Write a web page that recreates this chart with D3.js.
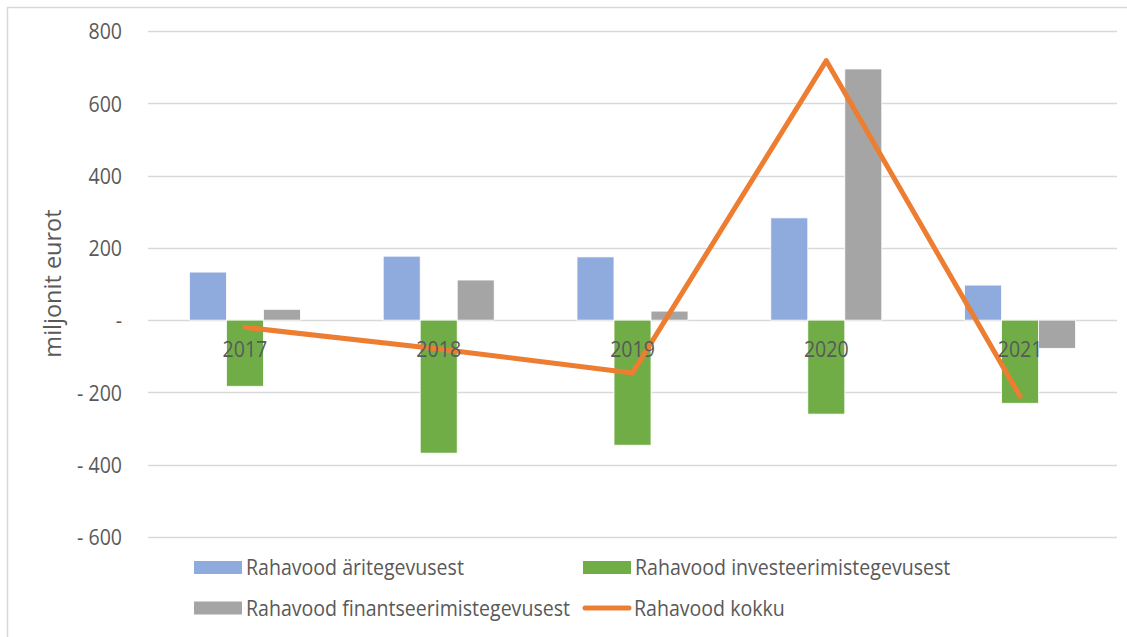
<!DOCTYPE html>
<html>
<head>
<meta charset="utf-8">
<script src="https://cdn.jsdelivr.net/npm/d3@7"></script>
<style>
  html, body { margin: 0; padding: 0; background: #fff; }
  svg { display: block; font-family: "Open Sans", "Noto Sans", sans-serif; }
</style>
</head>
<body>
<svg id="chart" width="1127" height="637"></svg>
<script>
// Cash flows by year (million euros)
const years = ["2017", "2018", "2019", "2020", "2021"];
const operating = [133, 177, 175, 283, 97];
const investing = [-183, -368, -346, -260, -230];
const financing = [30, 111, 25, 695, -78];
const total = [-20, -80, -146, 718, -211];
const yTicks = [800, 600, 400, 200, 0, -200, -400, -600];

const seriesNames = [
  "Rahavood äritegevusest",
  "Rahavood investeerimistegevusest",
  "Rahavood finantseerimistegevusest"
];
const lineName = "Rahavood kokku";
const colors = ["#8faadc", "#70ad47", "#a5a5a5"];
const lineColor = "#ed7d31";
const textColor = "#595959";

// narrow-looking text: slightly condensed glyphs
const FONT_SIZE = "21.5px";
const SQUEEZE = "scale(0.91,1)";

const svg = d3.select("#chart");

// outer frame
svg.append("rect")
  .attr("x", 7.5).attr("y", 7.5)
  .attr("width", 1125).attr("height", 635)
  .attr("fill", "none").attr("stroke", "#d9d9d9").attr("stroke-width", 1.5);

const plot = { left: 148, right: 1117, top: 31, bottom: 537 };

const y = d3.scaleLinear().domain([-600, 800]).range([plot.bottom, plot.top]);
const x = d3.scaleBand().domain(years).range([plot.left, plot.right]).padding(0);
const barW = 37;
const inner = d3.scaleBand().domain(d3.range(3)).range([0, barW * 3]).padding(0);

// gridlines
svg.append("g").selectAll("line").data(yTicks).join("line")
  .attr("x1", plot.left).attr("x2", plot.right)
  .attr("y1", d => Math.round(y(d)) + 0.5).attr("y2", d => Math.round(y(d)) + 0.5)
  .attr("stroke", "#d9d9d9").attr("stroke-width", 1.3);

// y tick labels in accounting style
const fmt = d => d === 0 ? "-" : (d < 0 ? "- " + Math.abs(d) : String(d));
const yAxis = d3.axisLeft(y).tickValues(yTicks).tickFormat(fmt).tickSize(0).tickPadding(0);
const gy = svg.append("g").attr("transform", "translate(122,0)").call(yAxis);
gy.select(".domain").remove();
gy.selectAll("text")
  .attr("fill", textColor)
  .attr("x", 0)
  .attr("dy", "0.36em")
  .attr("transform", SQUEEZE)
  .style("font-size", FONT_SIZE)
  .style("font-family", "'Open Sans', sans-serif");

// y axis title
svg.append("text")
  .attr("transform", "translate(61,283.5) rotate(-90)")
  .attr("text-anchor", "middle")
  .attr("fill", textColor)
  .style("font-size", "23.5px")
  .text("miljonit eurot");

// bars
const barSeries = [operating, investing, financing];
const gBars = svg.append("g");
barSeries.forEach((vals, si) => {
  gBars.append("g").selectAll("rect").data(vals).join("rect")
    .attr("x", (d, i) => x(years[i]) + x.bandwidth() / 2 - barW * 1.5 + inner(si))
    .attr("width", inner.bandwidth())
    .attr("y", d => y(Math.max(0, d)))
    .attr("height", d => Math.abs(y(d) - y(0)))
    .attr("fill", colors[si])
    .attr("stroke", "#ffffff")
    .attr("stroke-width", 0.8);
});

// total line
const line = d3.line()
  .x((d, i) => x(years[i]) + x.bandwidth() / 2)
  .y(d => y(d));
svg.append("path")
  .datum(total)
  .attr("d", line)
  .attr("fill", "none")
  .attr("stroke", lineColor)
  .attr("stroke-width", 5)
  .attr("stroke-linecap", "round")
  .attr("stroke-linejoin", "round");

// category labels
const xAxis = d3.axisBottom(x).tickSize(0).tickPadding(0);
const gx = svg.append("g").attr("transform", "translate(0,357)").call(xAxis);
gx.select(".domain").remove();
gx.selectAll("text")
  .attr("fill", textColor)
  .attr("y", 0)
  .attr("dy", 0)
  .attr("transform", SQUEEZE)
  .style("font-size", FONT_SIZE)
  .style("font-family", "'Open Sans', sans-serif");

// legend
const legend = svg.append("g").style("font-size", FONT_SIZE);
const legendItems = [
  { name: seriesNames[0], color: colors[0], type: "rect", x: 194, y: 567.5 },
  { name: seriesNames[1], color: colors[1], type: "rect", x: 583, y: 567.5 },
  { name: seriesNames[2], color: colors[2], type: "rect", x: 194, y: 608 },
  { name: lineName, color: lineColor, type: "line", x: 585, y: 608 }
];
legendItems.forEach(it => {
  if (it.type === "rect") {
    legend.append("rect")
      .attr("x", it.x).attr("y", it.y - 6.5)
      .attr("width", 48).attr("height", 13)
      .attr("fill", it.color);
  } else {
    legend.append("line")
      .attr("x1", it.x).attr("x2", it.x + 44)
      .attr("y1", it.y).attr("y2", it.y)
      .attr("stroke", it.color).attr("stroke-width", 5)
      .attr("stroke-linecap", "round");
  }
  legend.append("text")
    .attr("transform", `translate(${it.type === "rect" ? it.x + 52 : it.x + 49},${it.y}) ${SQUEEZE}`)
    .attr("dy", "0.36em")
    .attr("fill", textColor)
    .text(it.name);
});
</script>
</body>
</html>
